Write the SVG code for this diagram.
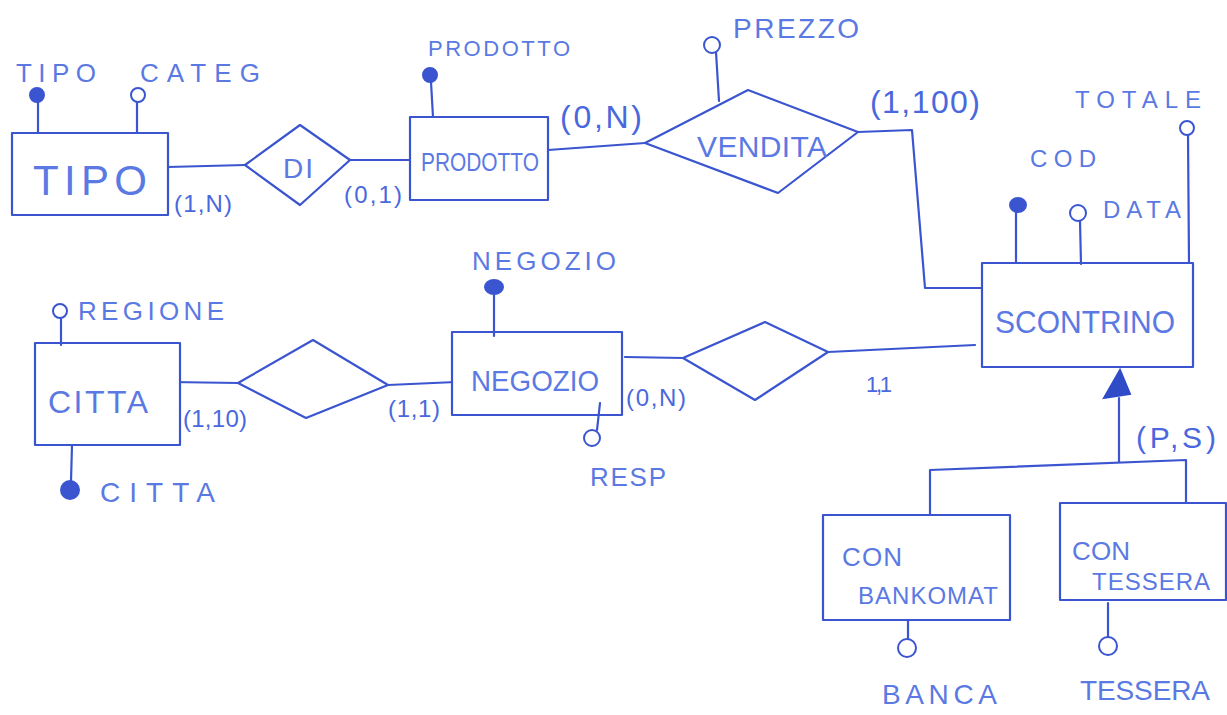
<svg xmlns="http://www.w3.org/2000/svg" width="1227" height="715" viewBox="0 0 1227 715">
<style>
.ln{fill:none;stroke:#3a55cf;stroke-width:2.2;stroke-linecap:round;stroke-linejoin:round}
.sh{fill:#fff;stroke:#3a55cf;stroke-width:2.2;stroke-linejoin:round}
.oc{fill:#fff;stroke:#3a55cf;stroke-width:2}
.kc{fill:#3a55cf;stroke:#3a55cf;stroke-width:2}
.t{font-family:"Liberation Sans",Arial,sans-serif;fill:#5b79e3}
.card{font-family:"Liberation Sans",Arial,sans-serif;fill:#4a68dd}
</style>
<rect width="1227" height="715" fill="#fff"/>
<g id="connectors">
<path class="ln" d="M168,167 L245,165"/>
<path class="ln" d="M350,160 L410,160"/>
<path class="ln" d="M548,150 L645,143"/>
<path class="ln" d="M858,132 L912,130 L925,288 L984,288"/>
<path class="ln" d="M975,345 L828,352"/>
<path class="ln" d="M625,357 L683,358"/>
<path class="ln" d="M170,382 L238,383"/>
<path class="ln" d="M388,385 L456,382"/>
<path class="ln" d="M1119,462 L1119,398"/>
<path class="ln" d="M930,520 L930,470 L1186,460 L1186,503"/>
</g>
<g id="gen-triangle"><polygon points="1104,398 1120,370 1130,394" fill="#2f4bc8" stroke="#2f4bc8" stroke-width="2"/></g>
<g id="card-labels">
<text class="card" x="174" y="212" font-size="24" textLength="58">(1,N)</text>
<text class="card" x="344" y="203" font-size="24" textLength="58">(0,1)</text>
<text class="card" x="560" y="128" font-size="32" textLength="82">(0,N)</text>
<text class="card" x="870" y="113" font-size="32" textLength="110">(1,100)</text>
<text class="card" x="183" y="427" font-size="24" textLength="64">(1,10)</text>
<text class="card" x="388" y="417" font-size="24" textLength="52">(1,1)</text>
<text class="card" x="626" y="406" font-size="24" textLength="60">(0,N)</text>
<text class="card" x="866" y="392" font-size="22" textLength="26">1,1</text>
<text class="card" x="1136" y="448" font-size="30" textLength="80">(P,S)</text>
</g>
<g id="tipo">
<rect class="sh" x="12" y="133" width="156" height="82"/>
<text class="t" x="90" y="195" font-size="42" text-anchor="middle" textLength="114">TIPO</text>
<path class="ln" d="M38,133 L38,101"/><circle class="kc" cx="37" cy="95" r="7"/>
<text class="t" x="16" y="82" font-size="26" textLength="80">TIPO</text>
<path class="ln" d="M137,133 L137,102"/><circle class="oc" cx="138" cy="95" r="7"/>
<text class="t" x="140" y="82" font-size="26" textLength="120">CATEG</text>
</g>
<g id="di">
<polygon class="sh" points="245,165 300,125 350,160 300,205"/>
<text class="t" x="298" y="178" font-size="28" text-anchor="middle" textLength="30">DI</text>
</g>
<g id="prodotto">
<rect class="sh" x="410" y="117" width="138" height="83"/>
<text class="t" x="480" y="171" font-size="26" text-anchor="middle" textLength="118" lengthAdjust="spacingAndGlyphs">PRODOTTO</text>
<path class="ln" d="M433,117 L431,82"/><circle class="kc" cx="430" cy="75" r="7"/>
<text class="t" x="428" y="56" font-size="22" textLength="142">PRODOTTO</text>
</g>
<g id="vendita">
<polygon class="sh" points="645,143 748,90 858,132 778,193"/>
<text class="t" x="762" y="157" font-size="30" text-anchor="middle" textLength="130">VENDITA</text>
<path class="ln" d="M719,101 L716,52"/><circle class="oc" cx="712" cy="45" r="8"/>
<text class="t" x="733" y="38" font-size="28" textLength="126">PREZZO</text>
</g>
<g id="scontrino">
<rect class="sh" x="982" y="263" width="211" height="104"/>
<text class="t" x="1085" y="333" font-size="32" text-anchor="middle" textLength="180" lengthAdjust="spacingAndGlyphs">SCONTRINO</text>
<path class="ln" d="M1016,263 L1016,212"/><ellipse class="kc" cx="1018" cy="205" rx="8" ry="7"/>
<text class="t" x="1030" y="167" font-size="24" textLength="66">COD</text>
<path class="ln" d="M1081,264 L1080,221"/><circle class="oc" cx="1078" cy="213" r="8"/>
<text class="t" x="1103" y="218" font-size="24" textLength="78">DATA</text>
<path class="ln" d="M1189,262 L1188,135"/><circle class="oc" cx="1187" cy="128" r="7"/>
<text class="t" x="1075" y="108" font-size="24" textLength="126">TOTALE</text>
</g>
<g id="rel-negozio-scontrino">
<polygon class="sh" points="683,358 765,322 828,352 755,400"/>
</g>
<g id="negozio">
<rect class="sh" x="452" y="332" width="170" height="83"/>
<text class="t" x="535" y="391" font-size="30" text-anchor="middle" textLength="128" lengthAdjust="spacingAndGlyphs">NEGOZIO</text>
<path class="ln" d="M494,336 L494,294"/><ellipse class="kc" cx="494" cy="287" rx="9" ry="7"/>
<text class="t" x="472" y="270" font-size="26" textLength="144">NEGOZIO</text>
<path class="ln" d="M600,403 L597,430"/><circle class="oc" cx="592" cy="438" r="8"/>
<text class="t" x="590" y="486" font-size="26" textLength="76">RESP</text>
</g>
<g id="rel-citta-negozio">
<polygon class="sh" points="238,383 313,340 388,385 306,418"/>
</g>
<g id="citta">
<rect class="sh" x="35" y="343" width="145" height="102"/>
<text class="t" x="98" y="413" font-size="32" text-anchor="middle" textLength="100">CITTA</text>
<path class="ln" d="M61,345 L61,319"/><circle class="oc" cx="60" cy="311" r="7"/>
<text class="t" x="78" y="320" font-size="26" textLength="146">REGIONE</text>
<path class="ln" d="M72,445 L71,481"/><circle class="kc" cx="70" cy="490" r="9"/>
<text class="t" x="100" y="502" font-size="28" textLength="115">CITTA</text>
</g>
<g id="con-bankomat">
<rect class="sh" x="823" y="515" width="187" height="105"/>
<text class="t" x="842" y="566" font-size="26" textLength="60">CON</text>
<text class="t" x="858" y="604" font-size="24" textLength="140">BANKOMAT</text>
<path class="ln" d="M908,620 L908,639"/><circle class="oc" cx="907" cy="648" r="9"/>
<text class="t" x="882" y="704" font-size="28" textLength="115">BANCA</text>
</g>
<g id="con-tessera">
<rect class="sh" x="1060" y="503" width="166" height="97"/>
<text class="t" x="1072" y="560" font-size="26" textLength="58">CON</text>
<text class="t" x="1092" y="590" font-size="24" textLength="118">TESSERA</text>
<path class="ln" d="M1108,603 L1108,637"/><circle class="oc" cx="1108" cy="646" r="9"/>
<text class="t" x="1080" y="700" font-size="28" textLength="130">TESSERA</text>
</g>
</svg>
